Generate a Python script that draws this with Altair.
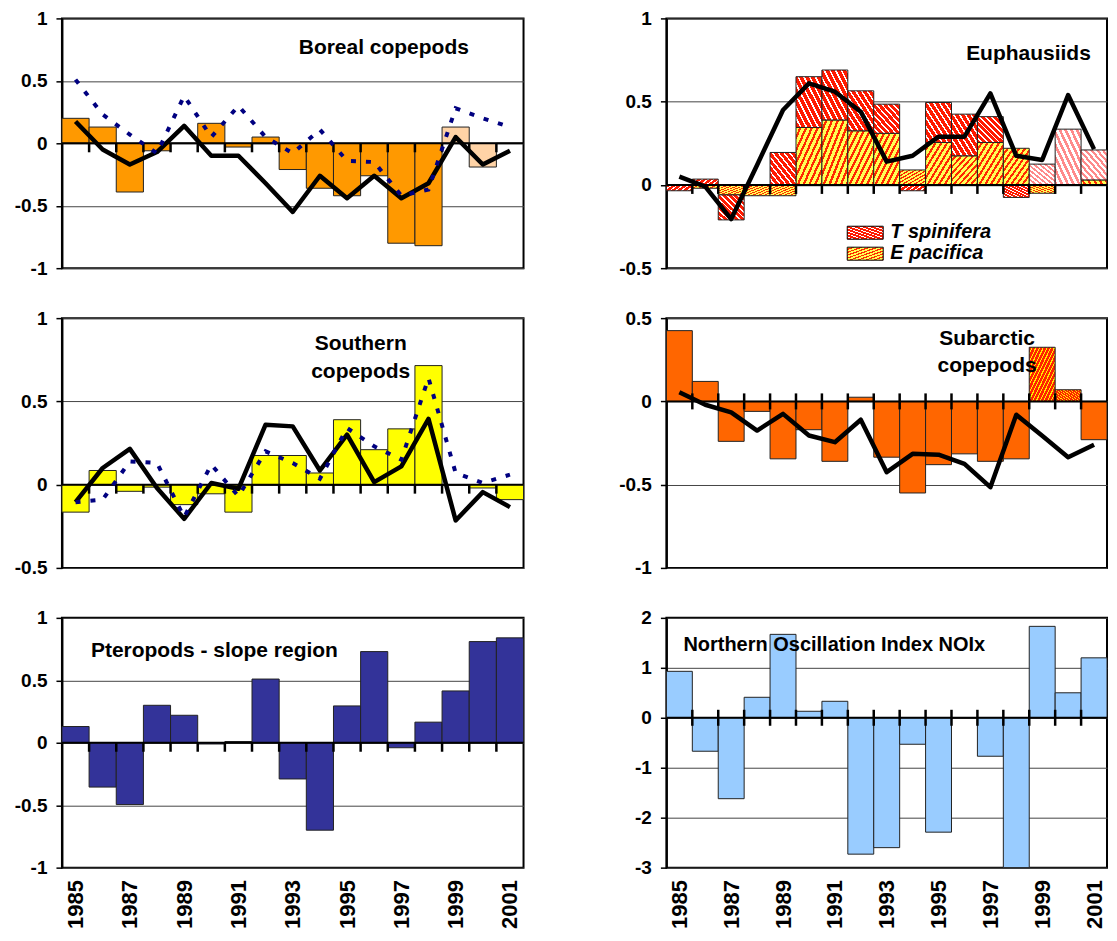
import altair as alt
import pandas as pd

# ---------------- data ----------------
years = list(range(1985, 2002))
label_years = list(range(1985, 2002, 2))

boreal_index = [0.20, 0.13, -0.39, -0.06, 0.00, 0.16, -0.03, 0.05, -0.21, -0.36,
                -0.42, -0.26, -0.80, -0.82, 0.13, -0.19, 0.00]
boreal_provisional = [0, 0, 0, 0, 0, 0, 0, 0, 0, 0, 0, 0, 0, 0, 1, 1, 0]
boreal_black = [0.175, -0.05, -0.17, -0.07, 0.14, -0.10, -0.10, -0.32, -0.55, -0.26,
                -0.44, -0.26, -0.44, -0.32, 0.05, -0.17, -0.06]
boreal_blue = [0.51, 0.23, 0.07, -0.08, 0.38, 0.05, 0.30, 0.05, -0.08, 0.11,
               -0.14, -0.15, -0.42, -0.37, 0.28, 0.20, 0.13]

southern_index = [-0.165, 0.085, -0.04, -0.015, -0.12, -0.055, -0.165, 0.175, 0.175, 0.07,
                  0.39, 0.21, 0.335, 0.715, 0.00, -0.02, -0.09]
southern_black = [-0.105, 0.10, 0.215, -0.02, -0.205, 0.01, -0.025, 0.36, 0.35, 0.085,
                  0.30, 0.015, 0.11, 0.395, -0.215, -0.045, -0.135]
southern_blue = [-0.105, -0.09, 0.14, 0.13, -0.195, 0.12, -0.07, 0.20, 0.13, 0.035,
                 0.34, 0.23, 0.15, 0.64, 0.07, 0.01, 0.06]

pteropods = [0.13, -0.355, -0.495, 0.30, 0.22, -0.01, 0.01, 0.51, -0.29, -0.70,
             0.295, 0.73, -0.04, 0.165, 0.415, 0.81, 0.84]

euph_e_pacifica = [0.00, -0.02, -0.06, -0.065, -0.065, 0.345, 0.39, 0.325, 0.31, 0.09,
                   0.255, 0.175, 0.255, 0.22, -0.05, 0.00, 0.03]
euph_t_spinifera = [-0.035, 0.035, -0.15, 0.00, 0.195, 0.305, 0.30, 0.24, 0.175, -0.035,
                    0.24, 0.25, 0.155, -0.075, 0.125, 0.335, 0.18]
euph_provisional = [0, 0, 0, 0, 0, 0, 0, 0, 0, 0, 0, 0, 0, 0, 1, 1, 1]
euph_line = [0.05, -0.01, -0.205, 0.12, 0.45, 0.61, 0.56, 0.44, 0.14, 0.175,
             0.29, 0.29, 0.55, 0.175, 0.15, 0.54, 0.215]

subarctic_index = [0.425, 0.12, -0.24, -0.06, -0.345, -0.17, -0.36, 0.025, -0.335, -0.55,
                   -0.38, -0.315, -0.36, -0.345, 0.325, 0.07, -0.23]
subarctic_provisional = [0, 0, 0, 0, 0, 0, 0, 0, 0, 0, 0, 0, 0, 0, 1, 1, 0]
subarctic_line = [0.055, -0.02, -0.066, -0.175, -0.075, -0.205, -0.245, -0.11, -0.425, -0.315,
                  -0.32, -0.375, -0.515, -0.08, -0.207, -0.335, -0.26]

noix = [0.93, -0.67, -1.62, 0.41, 1.67, 0.13, 0.33, -2.73, -2.60, -0.53,
        -2.29, 0.00, -0.77, -3.00, 1.83, 0.50, 1.20]

# category boundaries (between consecutive years) for the tick marks on the zero line
boundaries = pd.DataFrame({"b": [y + 0.5 for y in years[:-1]]})

# ---------------- layout / style ----------------
LW, RW, H = 462, 441, 250
RS = RW / 447.0
FONT = "Liberation Sans"


def stripes(c1, c2, n, frac, diag):
    stops = []
    for i in range(n):
        a, b, c = i / n, (i + frac) / n, (i + 1) / n
        stops += [alt.GradientStop(color=c1, offset=a), alt.GradientStop(color=c1, offset=b),
                  alt.GradientStop(color=c2, offset=b), alt.GradientStop(color=c2, offset=c)]
    if diag == "/":
        x1, y1, x2, y2 = 0, 0, 1, 1
    else:
        x1, y1, x2, y2 = 0, 1, 1, 0
    return alt.LinearGradient(gradient="linear", stops=stops, x1=x1, y1=y1, x2=x2, y2=y2)


EP_FILL = stripes("#FFFF55", "#FF2A00", 9, 0.58, "/")
TS_FILL = stripes("#FF1A00", "#FFFFFF", 9, 0.70, "\\")
TS_LIGHT = stripes("#FF8A8A", "#FFFFFF", 9, 0.50, "\\")
SUB_DOT = stripes("#FF2200", "#FFEE00", 14, 0.70, "/")

XS = alt.Scale(domain=[1984.5, 2001.5], nice=False, zero=False)


def x_enc(field, show):
    if show:
        ax = alt.Axis(values=label_years, labelExpr="datum.value + ''", labelAngle=-90,
                      ticks=False, domain=False, grid=False, labelFontSize=22,
                      labelPadding=12, labelFontWeight="bold")
        return alt.X(f"{field}:Q", scale=XS, axis=ax, title=None)
    return alt.X(f"{field}:Q", scale=XS, axis=None, title=None)


def y_enc(field, dom, vals):
    return alt.Y(f"{field}:Q", scale=alt.Scale(domain=dom, nice=False, zero=False),
                 axis=alt.Axis(values=vals, labelExpr="datum.value + ''", grid=True,
                               tickSize=6, labelPadding=9, labelFontSize=19,
                               labelFontWeight="bold", domainWidth=2),
                 title=None)


def frame(**cols):
    return pd.DataFrame({"year": years, **cols})


def bars(df, field, dom, vals, show, fill, filt=None):
    ch = alt.Chart(df).transform_calculate(x0="datum.year - 0.5", x1="datum.year + 0.5")
    if filt:
        ch = ch.transform_filter(filt)
    return ch.mark_rect(stroke="#222222", strokeWidth=1, fill=fill).encode(
        x=x_enc("x0", show), x2="x1:Q", y=y_enc(field, dom, vals), y2=alt.datum(0))


def zero_line(dom, vals, show, up, down):
    rule = alt.Chart(pd.DataFrame({"z": [0.0]})).mark_rule(color="black", strokeWidth=2).encode(
        y=y_enc("z", dom, vals))
    ticks = alt.Chart(boundaries).mark_tick(
        color="black", orient="vertical", thickness=2.5, size=up + down,
        yOffset=(down - up) / 2.0, opacity=1).encode(
        x=x_enc("b", show), y=alt.datum(0))
    return [rule, ticks]


def line(df, field, dom, vals, show, **kw):
    return alt.Chart(df).mark_line(**kw).encode(x=x_enc("year", show), y=y_enc(field, dom, vals))


def label(text, x, y, align="left", size=21, weight="bold", style="normal", lh=27):
    return alt.Chart(pd.DataFrame({"k": [0]})).mark_text(
        text=text, align=align, baseline="middle", fontSize=size, fontWeight=weight,
        fontStyle=style, font=FONT, color="black", lineHeight=lh).encode(
        x=alt.value(x), y=alt.value(y))


BLACK_LINE = dict(color="black", strokeWidth=4.5, strokeJoin="round")
BLUE_LINE = dict(color="#000080", strokeWidth=4, strokeDash=[5, 10])

# ---- Boreal copepods ----
d1 = frame(v=boreal_index, prov=boreal_provisional, black=boreal_black, blue=boreal_blue)
dom1, val1 = [-1, 1], [-1, -0.5, 0, 0.5, 1]
p1_bars = alt.Chart(d1).transform_calculate(
    x0="datum.year - 0.5", x1="datum.year + 0.5").mark_rect(
    stroke="#222222", strokeWidth=1).encode(
    x=x_enc("x0", False), x2="x1:Q", y=y_enc("v", dom1, val1), y2=alt.datum(0),
    fill=alt.condition("datum.prov == 1", alt.value("#FFD3A6"), alt.value("#FF9900")))
p1 = alt.layer(
    p1_bars,
    *zero_line(dom1, val1, False, 0, 9),
    line(d1, "black", dom1, val1, False, **BLACK_LINE),
    line(d1, "blue", dom1, val1, False, **BLUE_LINE),
    label("Boreal copepods", 237, 30),
).properties(width=LW, height=H)

# ---- Southern copepods ----
d2 = frame(v=southern_index, black=southern_black, blue=southern_blue)
dom2, val2 = [-0.5, 1], [-0.5, 0, 0.5, 1]
p2 = alt.layer(
    bars(d2, "v", dom2, val2, False, "#FFFF00"),
    *zero_line(dom2, val2, False, 0, 9),
    line(d2, "black", dom2, val2, False, **BLACK_LINE),
    line(d2, "blue", dom2, val2, False, **BLUE_LINE),
    label(["Southern", "copepods"], 299, 26, align="center", lh=28),
).properties(width=LW, height=H)

# ---- Pteropods ----
d3 = frame(v=pteropods)
dom3, val3 = [-1, 1], [-1, -0.5, 0, 0.5, 1]
p3 = alt.layer(
    bars(d3, "v", dom3, val3, True, "#333399"),
    *zero_line(dom3, val3, True, 0, 9),
    label("Pteropods - slope region", 29, 33),
).properties(width=LW, height=H)

# ---- Euphausiids ----
d4 = frame(ep=euph_e_pacifica, ts=euph_t_spinifera, prov=euph_provisional, line=euph_line)
dom4, val4 = [-0.5, 1], [-0.5, 0, 0.5, 1]


def ts_layer(fill, filt):
    return alt.Chart(d4).transform_filter(filt).transform_calculate(
        x0="datum.year - 0.5", x1="datum.year + 0.5",
        lo="datum.ts * datum.ep > 0 ? datum.ep : 0").transform_calculate(
        hi="datum.lo + datum.ts").mark_rect(stroke="#222222", strokeWidth=1, fill=fill).encode(
        x=x_enc("x0", False), x2="x1:Q", y=y_enc("hi", dom4, val4), y2="lo:Q")


def legend_patch(fill, y0):
    return alt.Chart(pd.DataFrame({"k": [0]})).mark_rect(
        fill=fill, stroke="black", strokeWidth=1).encode(
        x=alt.value(181), x2=alt.value(217), y=alt.value(y0), y2=alt.value(y0 + 13))


p4 = alt.layer(
    bars(d4, "ep", dom4, val4, False, EP_FILL, filt="datum.ep != 0"),
    ts_layer(TS_FILL, "datum.ts != 0 && datum.prov == 0"),
    ts_layer(TS_LIGHT, "datum.ts != 0 && datum.prov == 1"),
    *zero_line(dom4, val4, False, 0, 9),
    line(d4, "line", dom4, val4, False, **BLACK_LINE),
    label("Euphausiids", 300, 36),
    legend_patch(TS_FILL, 208),
    legend_patch(EP_FILL, 229),
    label("T spinifera", 224, 214, size=20, style="italic"),
    label("E pacifica", 224, 235, size=20, style="italic"),
).properties(width=RW, height=H)

# ---- Subarctic copepods ----
d5 = frame(v=subarctic_index, prov=subarctic_provisional, line=subarctic_line)
dom5, val5 = [-1, 0.5], [-1, -0.5, 0, 0.5]
p5 = alt.layer(
    bars(d5, "v", dom5, val5, False, "#FF6600", filt="datum.prov == 0"),
    bars(d5, "v", dom5, val5, False, SUB_DOT, filt="datum.prov == 1"),
    *zero_line(dom5, val5, False, 8, 8),
    line(d5, "line", dom5, val5, False, **BLACK_LINE),
    label(["Subarctic", "copepods"], 321, 21, align="center", lh=27),
).properties(width=RW, height=H)

# ---- NOIx ----
d6 = frame(v=noix)
dom6, val6 = [-3, 2], [-3, -2, -1, 0, 1, 2]
p6 = alt.layer(
    bars(d6, "v", dom6, val6, True, "#99CCFF"),
    *zero_line(dom6, val6, True, 8, 8),
    label("Northern Oscillation Index NOIx", 17, 27, size=20),
).properties(width=RW, height=H)

chart = alt.concat(p1, p4, p2, p5, p3, p6, columns=2, spacing={"row": 50, "column": 143},
                   bounds="flush").properties(
    padding={"left": 5, "top": 0, "right": 0, "bottom": 0}
).configure(font=FONT).configure_view(
    stroke="black", strokeWidth=2
).configure_axis(
    labelFont=FONT, labelColor="black", domainColor="black", tickColor="black",
    tickWidth=1.5, gridColor="#444444", gridWidth=1
)

chart.save("out.html", embed_options={"renderer": "svg", "actions": False})
